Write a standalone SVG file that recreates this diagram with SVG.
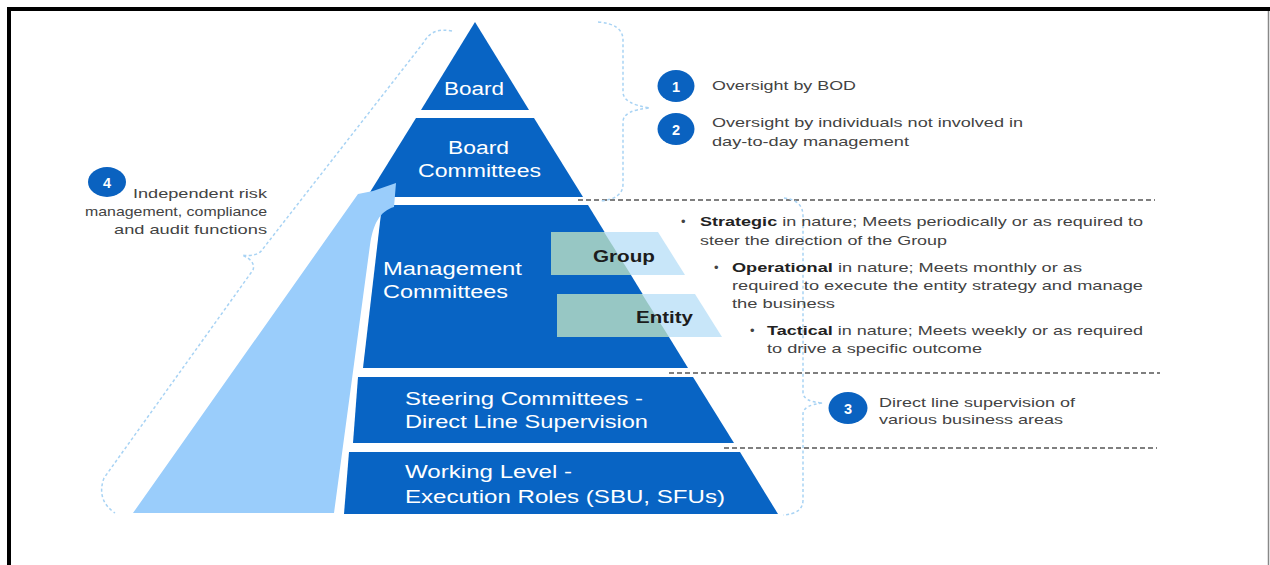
<svg xmlns="http://www.w3.org/2000/svg" width="1270" height="565" viewBox="0 0 1270 565">
  <defs>
    <style>
      .tier { fill: #0864c4; }
      .tl { font-family: "Liberation Sans", Arial, sans-serif; font-size: 18px; fill: #ffffff; }
      .note { font-family: "Liberation Sans", Arial, sans-serif; font-size: 13px; fill: #434343; }
      .strong { font-weight: bold; fill: #222222; }
      .badge { fill: #0a62c0; }
      .num { font-family: "Liberation Sans", Arial, sans-serif; font-size: 14.5px; font-weight: bold; fill: #ffffff; text-anchor: middle; }
      .brace { fill: none; stroke: #a8d3f4; stroke-width: 1.5; stroke-dasharray: 3 2.5; }
      .rule { fill: none; stroke: #555555; stroke-width: 1.5; stroke-dasharray: 5 3; }
      .tag { font-family: "Liberation Sans", Arial, sans-serif; font-size: 17px; font-weight: bold; fill: #1c1c1c; }
    </style>
  </defs>

  <rect width="1270" height="565" fill="#ffffff"/>

  <!-- frame -->
  <path d="M9,565 V9 H1270" fill="none" stroke="#000000" stroke-width="4"/>
  <path d="M1268.5,11 V565" fill="none" stroke="#888888" stroke-width="1.5"/>

  <!-- dashed rules and braces -->
  <g id="connectors">
    <path class="rule" d="M578,200 H1155"/>
    <path class="rule" d="M669,373 H1160"/>
    <path class="rule" d="M724,448 H1157"/>
    <path class="brace" d="M452,31 Q432,27 424,42 L262,250 Q257,257 242,255 Q256,261 253,270 L104,478 Q96,500 115,513"/>
    <path class="brace" d="M598,22 Q623,24 623,40 V92 Q623,104 650,108 Q623,110 623,122 V184 Q623,199 600,201"/>
    <path class="brace" d="M784,198 Q803,200 803,216 V392 Q803,402 823,403 Q803,405 803,414 V500 Q803,514 783,515"/>
  </g>

  <!-- pyramid tiers -->
  <g id="board">
    <polygon class="tier" points="475,22 529,110 421,110"/>
    <text class="tl" x="444" y="95" textLength="60" lengthAdjust="spacingAndGlyphs">Board</text>
  </g>
  <g id="board-committees">
    <polygon class="tier" points="416,118 534,118 583,197 367,197"/>
    <text class="tl" x="448" y="154" textLength="61" lengthAdjust="spacingAndGlyphs">Board</text>
    <text class="tl" x="418" y="177" textLength="123" lengthAdjust="spacingAndGlyphs">Committees</text>
  </g>
  <g id="management-committees">
    <polygon class="tier" points="382,205 588,205 688,368 363,368"/>
    <text class="tl" x="383" y="275" textLength="139" lengthAdjust="spacingAndGlyphs">Management</text>
    <text class="tl" x="383" y="298" textLength="125" lengthAdjust="spacingAndGlyphs">Committees</text>
  </g>
  <g id="steering-committees">
    <polygon class="tier" points="358,377 693,377 734,443 353,443"/>
    <text class="tl" x="405" y="405" textLength="238" lengthAdjust="spacingAndGlyphs">Steering  Committees  -</text>
    <text class="tl" x="405" y="428" textLength="243" lengthAdjust="spacingAndGlyphs">Direct Line Supervision</text>
  </g>
  <g id="working-level">
    <polygon class="tier" points="349,452 740,452 778,514 344,514"/>
    <text class="tl" x="405" y="478" textLength="167" lengthAdjust="spacingAndGlyphs">Working Level  -</text>
    <text class="tl" x="405" y="503" textLength="320" lengthAdjust="spacingAndGlyphs">Execution Roles (SBU, SFUs)</text>
  </g>

  <!-- group / entity tabs -->
  <g id="group">
    <polygon points="551,232 658,232 685,275 551,275" fill="#c8e6f9"/>
    <polygon points="551,232 604,232 631,275 551,275" fill="#97c7c4"/>
    <text class="tag" x="593" y="262" textLength="62" lengthAdjust="spacingAndGlyphs">Group</text>
  </g>
  <g id="entity">
    <polygon points="557,294 695,294 722,337 557,337" fill="#c8e6f9"/>
    <polygon points="557,294 642,294 669,337 557,337" fill="#97c7c4"/>
    <text class="tag" x="636" y="323" textLength="57" lengthAdjust="spacingAndGlyphs">Entity</text>
  </g>

  <!-- independent functions arrow -->
  <g id="independent-arrow">
    <path d="M133,513 L358,194 L373,191 L396,183 L394,207 C380,211 373,224 370,245 L334,513 Z" fill="#9acdfb"/>
  </g>

  <!-- numbered notes -->
  <g id="note-1">
    <ellipse class="badge" cx="676" cy="86" rx="18.5" ry="16"/>
    <text class="num" x="676" y="91.5">1</text>
    <text class="note" x="712" y="90" textLength="144" lengthAdjust="spacingAndGlyphs">Oversight by BOD</text>
  </g>
  <g id="note-2">
    <ellipse class="badge" cx="676" cy="129" rx="18.5" ry="16"/>
    <text class="num" x="676" y="134.5">2</text>
    <text class="note" x="712" y="127" textLength="311" lengthAdjust="spacingAndGlyphs">Oversight by individuals not involved in</text>
    <text class="note" x="712" y="146" textLength="197" lengthAdjust="spacingAndGlyphs">day-to-day management</text>
  </g>
  <g id="note-3">
    <ellipse class="badge" cx="848" cy="408" rx="19.5" ry="16"/>
    <text class="num" x="848" y="413.5">3</text>
    <text class="note" x="879" y="407" textLength="196" lengthAdjust="spacingAndGlyphs">Direct line supervision of</text>
    <text class="note" x="879" y="424" textLength="184" lengthAdjust="spacingAndGlyphs">various business areas</text>
  </g>
  <g id="note-4">
    <ellipse class="badge" cx="107" cy="182" rx="19" ry="15"/>
    <text class="num" x="107" y="187.5">4</text>
    <text class="note" x="267" y="198" text-anchor="end" textLength="134" lengthAdjust="spacingAndGlyphs">Independent risk</text>
    <text class="note" x="267" y="216" text-anchor="end" textLength="182" lengthAdjust="spacingAndGlyphs">management, compliance</text>
    <text class="note" x="267" y="234" text-anchor="end" textLength="153" lengthAdjust="spacingAndGlyphs">and audit functions</text>
  </g>

  <!-- committee descriptions -->
  <g id="desc-strategic">
    <text class="note" x="681" y="226">•</text>
    <text class="note" x="700" y="226" textLength="443" lengthAdjust="spacingAndGlyphs"><tspan class="strong">Strategic</tspan> in nature; Meets periodically or as required to</text>
    <text class="note" x="700" y="245" textLength="247" lengthAdjust="spacingAndGlyphs">steer the direction of the Group</text>
  </g>
  <g id="desc-operational">
    <text class="note" x="714" y="272">•</text>
    <text class="note" x="732" y="272" textLength="350" lengthAdjust="spacingAndGlyphs"><tspan class="strong">Operational</tspan> in nature; Meets monthly or as</text>
    <text class="note" x="732" y="290" textLength="411" lengthAdjust="spacingAndGlyphs">required to execute the entity strategy and manage</text>
    <text class="note" x="732" y="308" textLength="103" lengthAdjust="spacingAndGlyphs">the business</text>
  </g>
  <g id="desc-tactical">
    <text class="note" x="750" y="335">•</text>
    <text class="note" x="767" y="335" textLength="376" lengthAdjust="spacingAndGlyphs"><tspan class="strong">Tactical</tspan> in nature; Meets weekly or as required</text>
    <text class="note" x="767" y="353" textLength="215" lengthAdjust="spacingAndGlyphs">to drive a specific outcome</text>
  </g>
</svg>
